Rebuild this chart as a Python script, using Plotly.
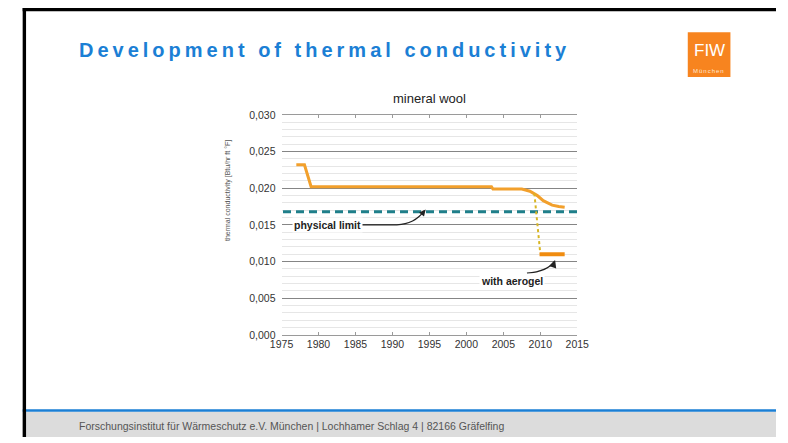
import plotly.graph_objects as go

W, H = 788, 443

# Mineral wool: thermal conductivity over time [Btu/hr ft °F]
mw_years = [1977.0, 1978.1, 1979.0, 2003.4, 2003.6, 2007.5, 2008.6, 2009.6, 2010.4, 2011.6, 2012.5, 2013.3]
mw_lambda = [0.0232, 0.0232, 0.0202, 0.0202, 0.0199, 0.0199, 0.0196, 0.0190, 0.0183, 0.0177, 0.0175, 0.0174]

# Transition to aerogel-enhanced products
drop_years = [2009.2, 2010.0]
drop_lambda = [0.0193, 0.0111]
aerogel_years = [2009.9, 2013.3]
aerogel_lambda = [0.0110, 0.0110]

# Physical limit
limit_years = [1975.2, 2015]
limit_lambda = [0.0168, 0.0168]

x_ticks = [1975, 1980, 1985, 1990, 1995, 2000, 2005, 2010, 2015]
y_ticks = [0.000, 0.005, 0.010, 0.015, 0.020, 0.025, 0.030]

FONT = "Liberation Sans, Arial, sans-serif"
BLUE = "#1b7fd5"
ORANGE = "#f2a02c"


def px(x):
    return x / W


def py(y):
    return 1 - y / H


fig = go.Figure()

fig.add_trace(go.Scatter(
    x=limit_years, y=limit_lambda, mode="lines",
    line=dict(color="#1f7f8a", width=3, dash="8px,5px"),
    hoverinfo="skip", showlegend=False))

fig.add_trace(go.Scatter(
    x=mw_years, y=mw_lambda, mode="lines",
    line=dict(color=ORANGE, width=3),
    hoverinfo="skip", showlegend=False))

fig.add_trace(go.Scatter(
    x=drop_years, y=drop_lambda, mode="lines",
    line=dict(color="#d8b624", width=2, dash="dot"),
    hoverinfo="skip", showlegend=False))

fig.add_trace(go.Scatter(
    x=aerogel_years, y=aerogel_lambda, mode="lines",
    line=dict(color="#f08c10", width=4),
    hoverinfo="skip", showlegend=False))

shapes = [
    # footer band
    dict(type="rect", xref="paper", yref="paper", x0=px(11), x1=1, y0=0, y1=py(417),
         fillcolor="#dcdcdc", line=dict(width=0), layer="below"),
    dict(type="rect", xref="paper", yref="paper", x0=px(11), x1=1, y0=py(417), y1=py(414.5),
         fillcolor=BLUE, line=dict(width=0)),
    # slide frame
    dict(type="rect", xref="paper", yref="paper", x0=px(11), x1=px(14.5), y0=0, y1=py(2),
         fillcolor="#000000", line=dict(width=0)),
    dict(type="rect", xref="paper", yref="paper", x0=px(11), x1=1, y0=py(5.5), y1=py(2),
         fillcolor="#000000", line=dict(width=0)),
    # logo box
    dict(type="rect", xref="paper", yref="paper", x0=px(697), x1=px(741), y0=py(73), y1=py(27),
         fillcolor="#f7841f", line=dict(width=0)),
    # curved callout lines
    dict(type="path", xref="x", yref="y",
         path="M 1985.8,0.0150 L 1990.6,0.0150 Q 1993.0,0.0151 1994.3,0.0169",
         line=dict(color="#222222", width=1.3)),
    dict(type="path", xref="x", yref="y",
         path="M 2008.2,0.0084 Q 2011.0,0.0087 2011.9,0.0100",
         line=dict(color="#222222", width=1.5)),
]

annotations = [
    dict(text="<span style='letter-spacing:4px'>Development of thermal conductivity</span>",
         xref="paper", yref="paper", x=px(67), y=py(45), xanchor="left", yanchor="middle",
         showarrow=False, font=dict(family=FONT, size=20, color=BLUE, weight="bold")),
    dict(text="FIW", xref="paper", yref="paper", x=px(719), y=py(46), xanchor="center",
         yanchor="middle", showarrow=False,
         font=dict(family=FONT, size=17, color="#ffffff")),
    dict(text="<span style='letter-spacing:1px'>München</span>", xref="paper", yref="paper",
         x=px(719), y=py(67), xanchor="center", yanchor="middle", showarrow=False,
         font=dict(family=FONT, size=6, color="#ffe8d0")),
    dict(text="Forschungsinstitut für Wärmeschutz e.V. München | Lochhamer Schlag 4 | 82166 Gräfelfing",
         xref="paper", yref="paper", x=px(67), y=py(432), xanchor="left", yanchor="middle",
         showarrow=False, font=dict(family=FONT, size=10.5, color="#555555")),
    dict(text="mineral wool", xref="paper", yref="paper", x=px(431), y=py(95),
         xanchor="center", yanchor="middle", showarrow=False,
         font=dict(family=FONT, size=13, color="#222222")),
    dict(text="thermal conductivity [Btu/hr ft °F]", xref="paper", yref="paper",
         x=px(223), y=py(190), xanchor="center", yanchor="middle", textangle=-90,
         showarrow=False, font=dict(family=FONT, size=7, color="#555555")),
    dict(text="<b>physical limit</b>", x=1976.4, y=0.0150, xanchor="left", yanchor="middle",
         showarrow=False, bgcolor="#ffffff", borderpad=1,
         font=dict(family=FONT, size=10.5, color="#222222")),
    dict(text="<b>with aerogel</b>", x=2006.2, y=0.0074, xanchor="center", yanchor="middle",
         showarrow=False, bgcolor="#ffffff", borderpad=1,
         font=dict(family=FONT, size=10.5, color="#222222")),
    # arrow heads at the end of the callouts
    dict(x=1994.5, y=0.0171, ax=1994.0, ay=0.0165, xref="x", yref="y", axref="x", ayref="y",
         text="", showarrow=True, arrowhead=2, arrowsize=1, arrowwidth=1.3, arrowcolor="#222222"),
    dict(x=2012.0, y=0.0102, ax=2011.8, ay=0.0096, xref="x", yref="y", axref="x", ayref="y",
         text="", showarrow=True, arrowhead=2, arrowsize=1, arrowwidth=1.5, arrowcolor="#222222"),
]

fig.update_layout(
    width=W, height=H,
    margin=dict(l=0, r=0, t=0, b=0),
    paper_bgcolor="#ffffff", plot_bgcolor="#ffffff",
    separators=", ",
    font=dict(family=FONT, size=10, color="#333333"),
    shapes=shapes, annotations=annotations,
    xaxis=dict(
        domain=[px(278), px(583)], range=[1975, 2015],
        tickvals=x_ticks, ticktext=[str(v) for v in x_ticks],
        showgrid=False, zeroline=False,
        showline=True, linecolor="#9a9a9a", linewidth=1, mirror="ticks",
        ticks="inside", ticklen=3, tickcolor="#9a9a9a",
        tickfont=dict(family=FONT, size=10.5, color="#333333"),
    ),
    yaxis=dict(
        domain=[py(338), py(112)], range=[0, 0.030],
        tickvals=y_ticks, tickformat=".3f",
        showgrid=True, gridcolor="#858585", gridwidth=1,
        zeroline=False, showline=False, ticks="",
        minor=dict(dtick=0.001, showgrid=True, gridcolor="#e6e6e6", gridwidth=1),
        tickfont=dict(family=FONT, size=10.5, color="#333333"),
        ticklabelstandoff=5,
    ),
)

fig.write_html("out.html")
